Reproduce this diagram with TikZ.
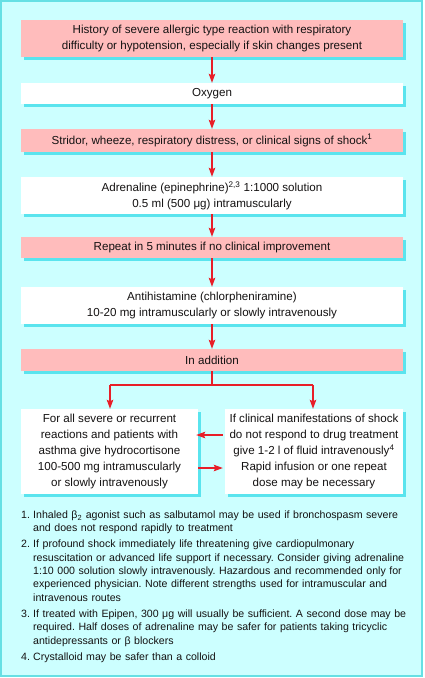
\documentclass[tikz,border=0pt]{standalone}
\usepackage{fontspec}
\setmainfont{Liberation Sans}
\frenchspacing
\usetikzlibrary{shadows,arrows.meta}
\definecolor{bgc}{RGB}{204,255,255}
\definecolor{framec}{RGB}{102,224,228}
\definecolor{shc}{RGB}{90,228,238}
\definecolor{pinkc}{RGB}{255,188,188}
\definecolor{redc}{RGB}{232,30,40}
\definecolor{txtc}{RGB}{20,18,18}
\tikzset{
  box/.style={draw=none, inner sep=0pt, align=center, text=txtc,
    font=\fontsize{11.6}{15.8}\selectfont,
    drop shadow={shadow xshift=3pt, shadow yshift=-3pt, fill=shc, opacity=1}},
  pinkbox/.style={box, fill=pinkc},
  whitebox/.style={box, fill=white},
  wide/.style={minimum width=382pt},
  redline/.style={draw=redc, line width=1.2pt},
  arr/.style={redline, -{Stealth[length=9pt,width=6.5pt,inset=1.5pt]}},
  notes/.style={inner sep=0pt, text=txtc, align=left, text width=395pt,
    font=\fontsize{10.6}{13.4}\selectfont}
}
\begin{document}
\begin{tikzpicture}[x=1pt,y=-1pt]
\useasboundingbox (0,0) rectangle (424,678);
\draw[line width=1.6pt, draw=framec, fill=bgc] (1,1) rectangle (422,676);

\node[pinkbox, wide, minimum height=37pt] (b1) at (212,38.5)
  {History of severe allergic type reaction with respiratory\\difficulty or hypotension, especially if skin changes present};
\node[whitebox, wide, minimum height=21pt] (b2) at (212,93.5) {Oxygen};
\node[pinkbox, wide, minimum height=23pt] (b3) at (212,140.5)
  {Stridor, wheeze, respiratory distress, or clinical signs of shock\textsuperscript{1}};
\node[whitebox, wide, minimum height=37pt] (b4) at (212,195.5)
  {Adrenaline (epinephrine)\textsuperscript{2,3} 1:1000 solution\\0.5 ml (500 μg) intramuscularly};
\node[pinkbox, wide, minimum height=21pt] (b5) at (212,247.5)
  {Repeat in 5 minutes if no clinical improvement};
\node[whitebox, wide, minimum height=37pt] (b6) at (212,305.5)
  {Antihistamine (chlorpheniramine)\\10-20 mg intramuscularly or slowly intravenously};
\node[pinkbox, wide, minimum height=22pt] (b7) at (212,360) {In addition};
\node[whitebox, minimum width=177pt, minimum height=85pt] (b8l) at (109.5,451.5)
  {For all severe or recurrent\\reactions and patients with\\asthma give hydrocortisone\\100-500 mg intramuscularly\\or slowly intravenously};
\node[whitebox, minimum width=178pt, minimum height=85pt] (b8r) at (314,451.5)
  {If clinical manifestations of shock\\do not respond to drug treatment\\give 1-2 l of fluid intravenously\textsuperscript{4}\\Rapid infusion or one repeat\\dose may be necessary};

\draw[arr] (b1) -- (b2);
\draw[arr] (b2) -- (b3);
\draw[arr] (b3) -- (b4);
\draw[arr] (b4) -- (b5);
\draw[arr] (b5) -- (b6);
\draw[arr] (b6) -- (b7);
\coordinate (br) at (212,385);
\coordinate (brl) at (110,385);
\coordinate (brr) at (313,385);
\draw[redline] (b7.south) -- (br);
\draw[redline] (brl) -- (brr);
\draw[arr] (brl) -- (brl |- b8l.north);
\draw[arr] (brr) -- (brr |- b8r.north);
\draw[arr, shorten <=2pt, shorten >=-2pt] (b8r.west |- 0,435) -- (b8l.east |- 0,435);
\draw[arr, shorten <=0pt, shorten >=2pt] (b8l.east |- 0,468) -- (b8r.west |- 0,468);

\node[notes, anchor=north west] (fn) at (21,510.5) {%
\setlength{\parskip}{2.6pt}%
\hangindent=12pt\hangafter=1\noindent\makebox[12pt][l]{1.}Inhaled β\textsubscript{2} agonist such as salbutamol may be used if bronchospasm severe\newline and does not respond rapidly to treatment\par
\hangindent=12pt\hangafter=1\noindent\makebox[12pt][l]{2.}If profound shock immediately life threatening give cardiopulmonary\newline resuscitation or advanced life support if necessary. Consider giving adrenaline\newline 1:10 000 solution slowly intravenously. Hazardous and recommended only for\newline experienced physician. Note different strengths used for intramuscular and\newline intravenous routes\par
\hangindent=12pt\hangafter=1\noindent\makebox[12pt][l]{3.}If treated with Epipen, 300 μg will usually be sufficient. A second dose may be\newline required. Half doses of adrenaline may be safer for patients taking tricyclic\newline antidepressants or β blockers\par
\hangindent=12pt\hangafter=1\noindent\makebox[12pt][l]{4.}Crystalloid may be safer than a colloid\par};
\end{tikzpicture}
\end{document}
